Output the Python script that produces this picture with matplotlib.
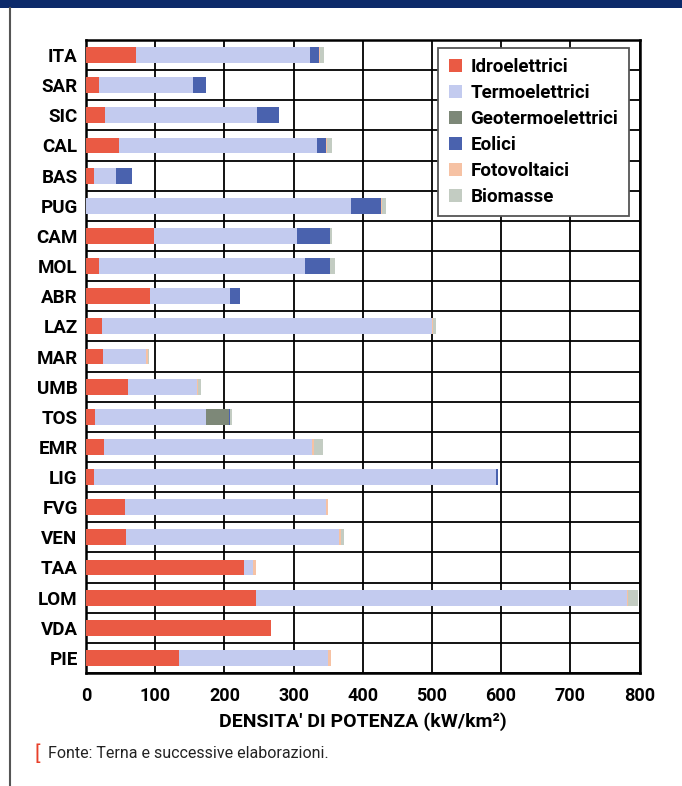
import matplotlib
matplotlib.use("Agg")
import matplotlib.pyplot as plt
import numpy as np
from matplotlib.patches import Rectangle, Patch
from matplotlib.lines import Line2D

regions = ["ITA", "SAR", "SIC", "CAL", "BAS", "PUG", "CAM", "MOL", "ABR", "LAZ", "MAR",
           "UMB", "TOS", "EMR", "LIG", "FVG", "VEN", "TAA", "LOM", "VDA", "PIE"]
idro  = [72, 19, 28, 47, 12, 0, 98, 19, 92, 23, 24, 60, 13, 26, 12, 57, 58, 229, 246, 268, 134]
termo = [252, 136, 219, 287, 32, 383, 207, 297, 116, 477, 63, 100, 161, 301, 581, 290, 307, 12, 536, 0, 216]
geo   = [0, 0, 0, 0, 0, 0, 0, 0, 0, 0, 0, 0, 32, 0, 0, 0, 0, 0, 0, 0, 0]
eol   = [13, 19, 32, 13, 22, 44, 48, 36, 14, 0, 0, 0, 2, 0, 2, 0, 0, 0, 0, 0, 0]
foto  = [1, 0, 0, 1, 0, 1, 0, 1, 0, 1, 2, 2, 0, 3, 0, 3, 4, 4, 2, 0, 4]
bio   = [6, 0, 0, 8, 0, 6, 2, 7, 0, 5, 2, 4, 3, 12, 0, 0, 4, 1, 14, 0, 0]
series_names = ["Idroelettrici", "Termoelettrici", "Geotermoelettrici", "Eolici", "Fotovoltaici", "Biomasse"]
series = [idro, termo, geo, eol, foto, bio]
colors = ["#ea5a44", "#c3cbef", "#7d8878", "#4a62ae", "#f6c2a4", "#c3ccc2"]
xticks = [0, 100, 200, 300, 400, 500, 600, 700, 800]

FONT = "Roboto"
plt.rcParams['font.family'] = [FONT, 'DejaVu Sans']

fig = plt.figure(figsize=(6.82, 7.86), dpi=100)
ax = fig.add_axes([86/682, 1-673/786, 553.5/682, 633/786])

n = len(regions)
y = np.arange(n)
left = np.zeros(n)
for vals, col, name in zip(series, colors, series_names):
    v = np.array(vals, dtype=float)
    ax.barh(y, v, left=left, height=0.53, color=col, label=name, zorder=3, linewidth=0)
    left += v

ax.set_xlim(0, 800)
ax.set_ylim(n - 0.5, -0.5)
ax.set_yticks(y)
ax.set_yticklabels(regions, fontsize=13.5, fontweight='bold')
ax.set_yticks(np.arange(n + 1) - 0.5, minor=True)
ax.set_xticks(xticks)
ax.set_xticklabels([str(t) for t in xticks], fontsize=13, fontweight='bold')
ax.tick_params(axis='both', which='both', length=0)
ax.tick_params(axis='y', pad=6)
ax.tick_params(axis='x', pad=10)
ax.grid(True, axis='x', which='major', color='black', linewidth=1.3, zorder=1)
ax.grid(True, axis='y', which='minor', color='black', linewidth=1.3, zorder=1)
ax.grid(False, axis='y', which='major')
for s in ax.spines.values():
    s.set_linewidth(1.8)
    s.set_color('black')
ax.set_axisbelow(True)
ax.set_xlabel("DENSITA' DI POTENZA (kW/km²)", fontsize=14, fontweight='bold', labelpad=5)

handles = [Patch(facecolor=c, edgecolor='none') for c in colors]
leg = ax.legend(handles, series_names, loc='upper right', bbox_to_anchor=(0.987, 0.993),
                fontsize=13.5, frameon=True, fancybox=False, handlelength=0.7, handleheight=0.7,
                handletextpad=0.45, labelspacing=0.42, borderpad=0.55, borderaxespad=0.2, framealpha=1)
leg.get_frame().set_edgecolor('#555555')
leg.get_frame().set_linewidth(1.3)
for t in leg.get_texts():
    t.set_fontweight('bold')
leg.set_zorder(5)

# top navy band and page border
fig.patches.append(Rectangle((0, 1 - 8/786), 1, 8/786, transform=fig.transFigure,
                             facecolor='#0c2a6a', edgecolor='none', zorder=0))
fig.lines.append(Line2D([10/682, 10/682], [0, 1 - 8/786], transform=fig.transFigure,
                        color='#555555', linewidth=1.5))

fig.text(35/682, 1 - 754/786, "[", color='#e8402a', fontsize=15, va='center', ha='left')
fig.text(48/682, 1 - 754/786, "Fonte: Terna e successive elaborazioni.", color='#222222',
         fontsize=11.5, va='center', ha='left')

fig.savefig("out.png", dpi=100)
